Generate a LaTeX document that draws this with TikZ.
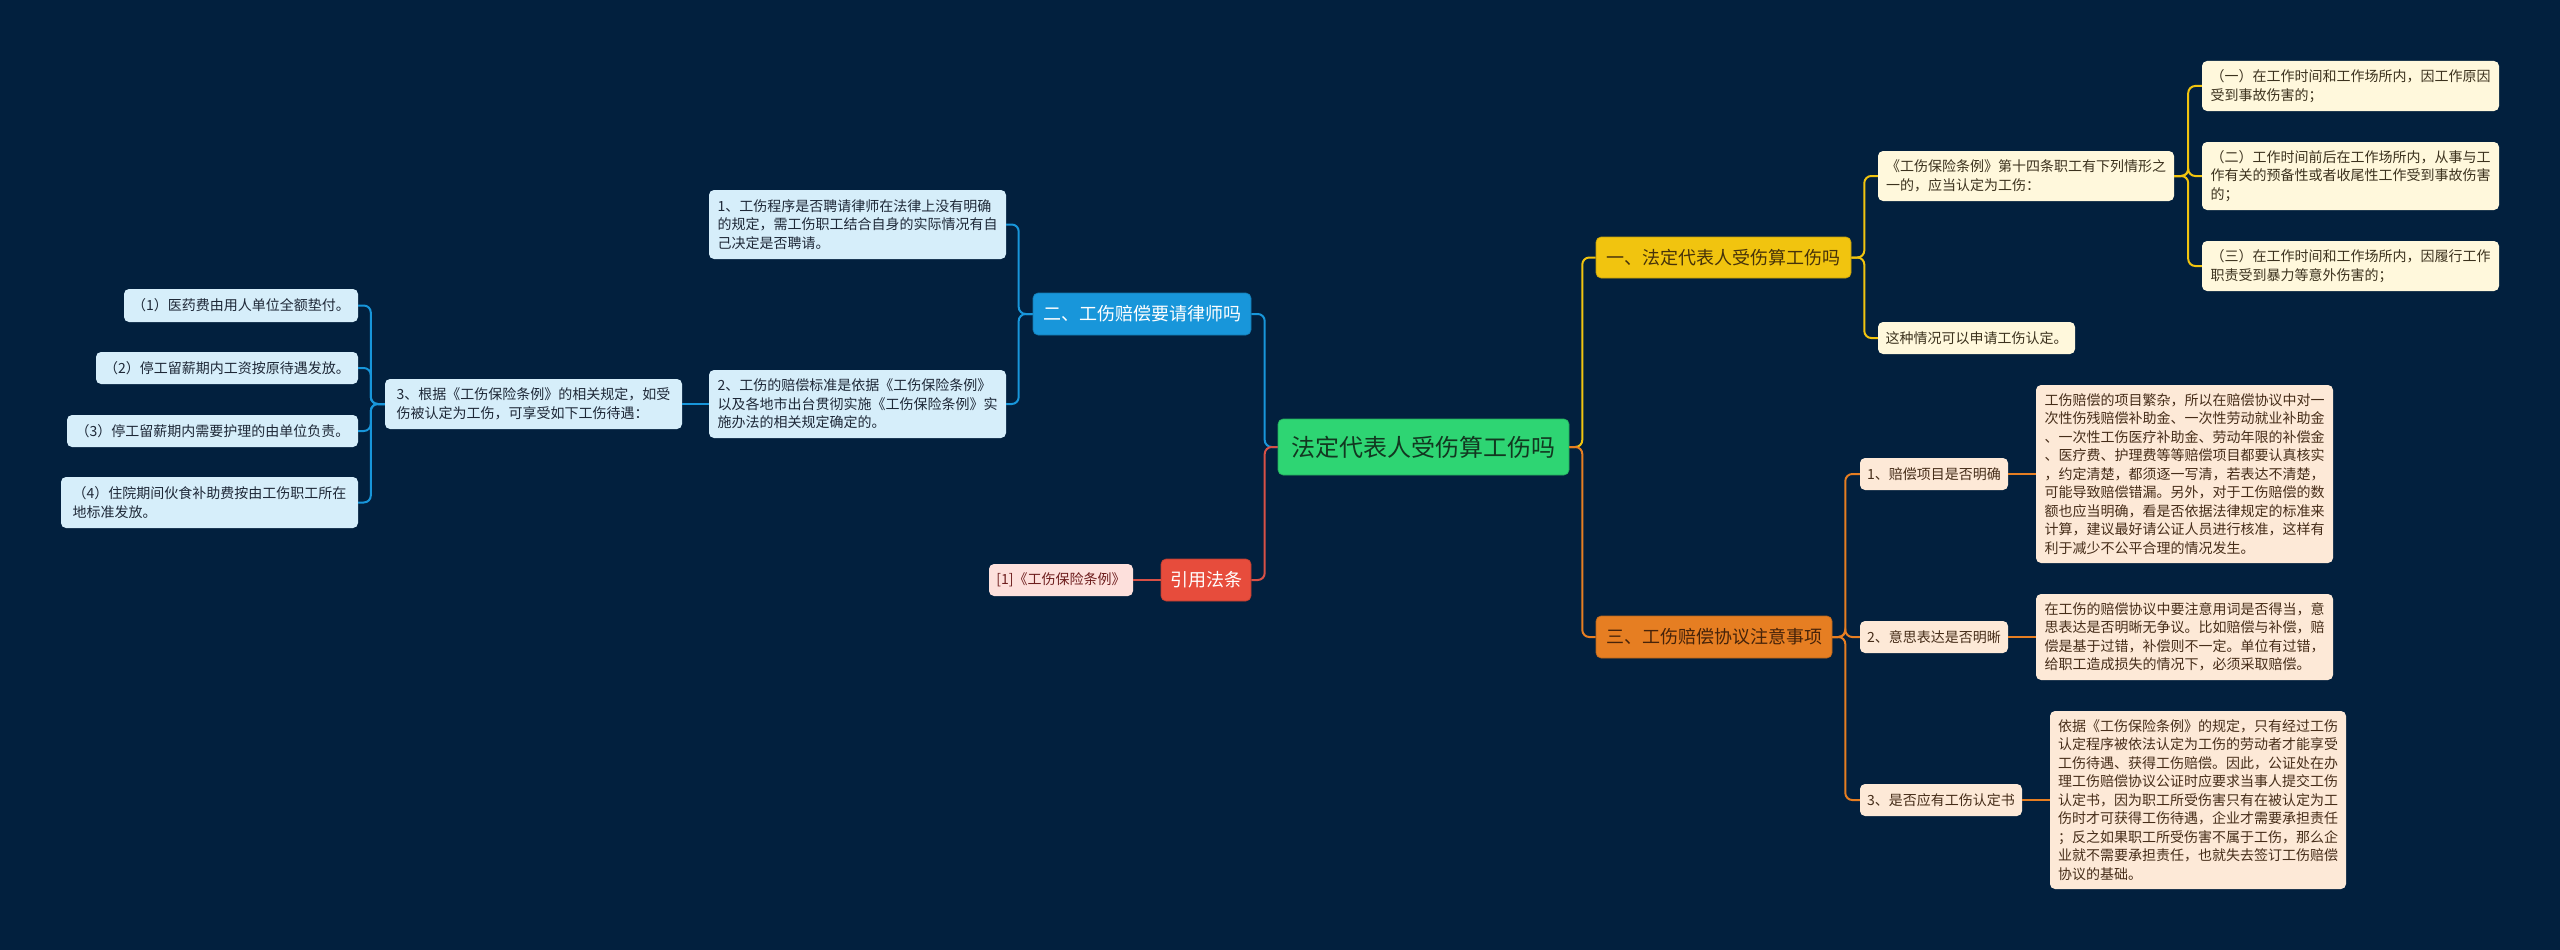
\documentclass[tikz,border=0pt]{standalone}
\usepackage{fontspec}
\setmainfont{Noto Sans CJK SC}
\definecolor{bg}{RGB}{2,32,62}
\definecolor{rootF}{RGB}{46,213,115}
\definecolor{rootT}{RGB}{18,55,32}
\definecolor{yF}{RGB}{241,196,15}
\definecolor{yT}{RGB}{70,50,10}
\definecolor{oF}{RGB}{230,126,34}
\definecolor{oT}{RGB}{70,35,10}
\definecolor{bF}{RGB}{24,150,218}
\definecolor{rF}{RGB}{231,76,60}
\definecolor{yL}{RGB}{255,248,220}
\definecolor{yLT}{RGB}{60,50,30}
\definecolor{oL}{RGB}{253,233,215}
\definecolor{oLT}{RGB}{70,45,25}
\definecolor{bL}{RGB}{214,238,250}
\definecolor{bLT}{RGB}{30,40,55}
\definecolor{rL}{RGB}{253,224,220}
\definecolor{rLT}{RGB}{110,30,30}
\definecolor{rLine}{RGB}{215,80,70}
\newcommand\leaffont{\fontsize{14}{18.5}\selectfont}
\newcommand\mainfont{\fontsize{18}{22}\selectfont}
\newcommand\rootfont{\fontsize{24}{28}\selectfont}
\tikzset{
  box/.style={rounded corners=5pt, inner xsep=6pt, inner ysep=0pt, align=left},
  rootbox/.style={box, fill=rootF, text=rootT, font=\rootfont, draw=rootF!80!black, line width=0.6pt},
  ybox/.style={box, fill=yF, text=yT, font=\mainfont, draw=yF!80!black, line width=0.6pt},
  obox/.style={box, fill=oF, text=oT, font=\mainfont, draw=oF!80!black, line width=0.6pt},
  bbox/.style={box, fill=bF, text=white, font=\mainfont, draw=bF!80!black, line width=0.6pt},
  rbox/.style={box, fill=rF, text=white, font=\mainfont, draw=rF!80!black, line width=0.6pt},
  yleaf/.style={box, fill=yL, text=yLT, font=\leaffont},
  oleaf/.style={box, fill=oL, text=oLT, font=\leaffont},
  bleaf/.style={box, fill=bL, text=bLT, font=\leaffont},
  rleaf/.style={box, fill=rL, text=rLT, font=\leaffont},
  conn/.style={line width=2pt, rounded corners=7pt},
  cY/.style={conn, draw=yF},
  cO/.style={conn, draw=oF},
  cB/.style={conn, draw=bF},
  cR/.style={conn, draw=rLine},
}
\begin{document}
\begin{tikzpicture}[x=1pt, y=-1pt]
\path[fill=bg] (0,0) rectangle (2560,950);
\useasboundingbox (0,0) rectangle (2560,950);

% root
\node[rootbox, minimum width=291, minimum height=56] (root) at (1423.5,447) {法定代表人受伤算工伤吗};

% main branches
\node[ybox, minimum width=255, minimum height=41] (Y) at (1723.5,257.5) {一、法定代表人受伤算工伤吗};
\node[obox, minimum width=236, minimum height=42] (O) at (1714,637) {三、工伤赔偿协议注意事项};
\node[bbox, minimum width=218, minimum height=42] (B) at (1142,314) {二、工伤赔偿要请律师吗};
\node[rbox, minimum width=90, minimum height=42] (R) at (1206,580) {引用法条};

% red leaf
\node[rleaf, minimum width=144, minimum height=32] (R1) at (1061,580) {[1]《工伤保险条例》};

% yellow leaves
\node[yleaf, minimum width=296, minimum height=50] (Y1) at (2026,176) {《工伤保险条例》第十四条职工有下列情形之\\一的，应当认定为工伤：};
\node[yleaf, minimum width=197, minimum height=32] (Y2) at (1976.5,338) {这种情况可以申请工伤认定。};
\node[yleaf, minimum width=297, minimum height=50] (Y11) at (2350.5,86) {（一）在工作时间和工作场所内，因工作原因\\受到事故伤害的；};
\node[yleaf, minimum width=297, minimum height=68] (Y12) at (2350.5,176) {（二）工作时间前后在工作场所内，从事与工\\作有关的预备性或者收尾性工作受到事故伤害\\的；};
\node[yleaf, minimum width=297, minimum height=50] (Y13) at (2350.5,266) {（三）在工作时间和工作场所内，因履行工作\\职责受到暴力等意外伤害的；};

% orange leaves
\node[oleaf, minimum width=148, minimum height=32] (O1) at (1934,474) {1、赔偿项目是否明确};
\node[oleaf, minimum width=148, minimum height=32] (O2) at (1934,637) {2、意思表达是否明晰};
\node[oleaf, minimum width=162, minimum height=32] (O3) at (1941,800) {3、是否应有工伤认定书};
\node[oleaf, minimum width=297, minimum height=178] (O1t) at (2184.5,474) {工伤赔偿的项目繁杂，所以在赔偿协议中对一\\次性伤残赔偿补助金、一次性劳动就业补助金\\、一次性工伤医疗补助金、劳动年限的补偿金\\、医疗费、护理费等等赔偿项目都要认真核实\\，约定清楚，都须逐一写清，若表达不清楚，\\可能导致赔偿错漏。另外，对于工伤赔偿的数\\额也应当明确，看是否依据法律规定的标准来\\计算，建议最好请公证人员进行核准，这样有\\利于减少不公平合理的情况发生。};
\node[oleaf, minimum width=297, minimum height=86] (O2t) at (2184.5,637) {在工伤的赔偿协议中要注意用词是否得当，意\\思表达是否明晰无争议。比如赔偿与补偿，赔\\偿是基于过错，补偿则不一定。单位有过错，\\给职工造成损失的情况下，必须采取赔偿。};
\node[oleaf, minimum width=296, minimum height=178] (O3t) at (2198,800) {依据《工伤保险条例》的规定，只有经过工伤\\认定程序被依法认定为工伤的劳动者才能享受\\工伤待遇、获得工伤赔偿。因此，公证处在办\\理工伤赔偿协议公证时应要求当事人提交工伤\\认定书，因为职工所受伤害只有在被认定为工\\伤时才可获得工伤待遇，企业才需要承担责任\\；反之如果职工所受伤害不属于工伤，那么企\\业就不需要承担责任，也就失去签订工伤赔偿\\协议的基础。};

% blue leaves
\node[bleaf, minimum width=297, minimum height=69] (B1) at (857.5,224.5) {1、工伤程序是否聘请律师在法律上没有明确\\的规定，需工伤职工结合自身的实际情况有自\\己决定是否聘请。};
\node[bleaf, minimum width=297, minimum height=68] (B2) at (857.5,404) {2、工伤的赔偿标准是依据《工伤保险条例》\\以及各地市出台贯彻实施《工伤保险条例》实\\施办法的相关规定确定的。};
\node[bleaf, minimum width=297, minimum height=50] (B3) at (533.5,404) {3、根据《工伤保险条例》的相关规定，如受\\伤被认定为工伤，可享受如下工伤待遇：};
\node[bleaf, minimum width=234, minimum height=33] (B31) at (241,305.5) {（1）医药费由用人单位全额垫付。};
\node[bleaf, minimum width=262, minimum height=32] (B32) at (227,368) {（2）停工留薪期内工资按原待遇发放。};
\node[bleaf, minimum width=291, minimum height=32] (B33) at (212.5,431) {（3）停工留薪期内需要护理的由单位负责。};
\node[bleaf, minimum width=297, minimum height=51] (B34) at (209.5,502.5) {（4）住院期间伙食补助费按由工伤职工所在\\地标准发放。};

% connectors (drawn behind via layering order: draw then redraw nodes not needed since they end at edges)
\draw[cY] (root.east) -- ++(13,0) |- (Y.west);
\draw[cO] (root.east) -- ++(13,0) |- (O.west);
\draw[cB] (root.west) -- ++(-13,0) |- (B.east);
\draw[cR] (root.west) -- ++(-13,0) |- (R.east);
\draw[cR] (R.west) -- (R1.east);

\draw[cY] (Y.east) -- ++(13,0) |- (Y1.west);
\draw[cY] (Y.east) -- ++(13,0) |- (Y2.west);
\draw[cY] (Y1.east) -- ++(14,0) |- (Y11.west);
\draw[cY] (Y1.east) -- ++(14,0) |- (Y12.west);
\draw[cY] (Y1.east) -- ++(14,0) |- (Y13.west);

\draw[cO] (O.east) -- ++(13,0) |- (O1.west);
\draw[cO] (O.east) -- ++(13,0) |- (O2.west);
\draw[cO] (O.east) -- ++(13,0) |- (O3.west);
\draw[cO] (O1.east) -- (O1t.west);
\draw[cO] (O2.east) -- (O2t.west);
\draw[cO] (O3.east) -- (O3t.west);

\draw[cB] (B.west) -- ++(-14,0) |- (B1.east);
\draw[cB] (B.west) -- ++(-14,0) |- (B2.east);
\draw[cB] (B2.west) -- (B3.east);
\draw[cB] (B3.west) -- ++(-14,0) |- (B31.east);
\draw[cB] (B3.west) -- ++(-14,0) |- (B32.east);
\draw[cB] (B3.west) -- ++(-14,0) |- (B33.east);
\draw[cB] (B3.west) -- ++(-14,0) |- (B34.east);
\end{tikzpicture}
\end{document}
